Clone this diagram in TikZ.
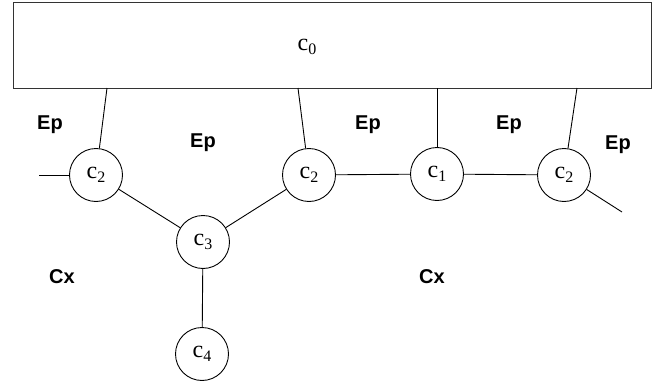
\documentclass[tikz,border=0pt]{standalone}
\usepackage{fontspec}
\setmainfont{Liberation Serif}
\newfontfamily\labfont{Liberation Sans}
\newcommand\csub[1]{c\raisebox{-4.5pt}{\fontsize{16}{16}\selectfont #1}}
\begin{document}
\begin{tikzpicture}[x=1pt,y=-1pt,
  cnode/.style={circle,draw,line width=0.9pt,minimum size=53pt,inner sep=0pt,font=\fontsize{24}{24}\selectfont},
  conn/.style={line width=0.9pt},
  reglab/.style={font=\labfont\bfseries\fontsize{20}{20}\selectfont,inner sep=0pt}]
\useasboundingbox (0,0) rectangle (657,388);
\node[draw,line width=1.3pt,draw=black!80,minimum width=638pt,minimum height=86pt,inner sep=0pt,anchor=north west] (c0) at (13,2) {};
\node[font=\fontsize{24}{24}\selectfont,inner sep=0pt] (c0lab) at (307,47) {\csub{0}};
\node[cnode] (c2a) at (96,175) {\csub{2}};
\node[cnode] (c2b) at (309,175) {\csub{2}};
\node[cnode] (c1) at (437,174) {\csub{1}};
\node[cnode] (c2c) at (564,175) {\csub{2}};
\node[cnode] (c3) at (203,242) {\csub{3}};
\node[cnode] (c4) at (202,354) {\csub{4}};
\coordinate (t1) at (107,88);
\coordinate (t2) at (298,88);
\coordinate (t3) at (437,88);
\coordinate (t4) at (577,88);
\coordinate (lt) at (39,175);
\coordinate (rt) at (622,212);
\draw[conn] (t1) -- (c2a);
\draw[conn] (t2) -- (c2b);
\draw[conn] (t3) -- (c1);
\draw[conn] (t4) -- (c2c);
\draw[conn] (lt) -- (c2a);
\draw[conn] (c2c) -- (rt);
\draw[conn] (c2b) -- (c1);
\draw[conn] (c1) -- (c2c);
\draw[conn] (c2a) -- (c3);
\draw[conn] (c2b) -- (c3);
\draw[conn] (c3) -- (c4);
\node[reglab] (ep1) at (50,125) {Ep};
\node[reglab] (ep2) at (203,143) {Ep};
\node[reglab] (ep3) at (368,125) {Ep};
\node[reglab] (ep4) at (509,125) {Ep};
\node[reglab] (ep5) at (618,145) {Ep};
\node[reglab] (cx1) at (62,277) {Cx};
\node[reglab] (cx2) at (432,277) {Cx};
\end{tikzpicture}
\end{document}
